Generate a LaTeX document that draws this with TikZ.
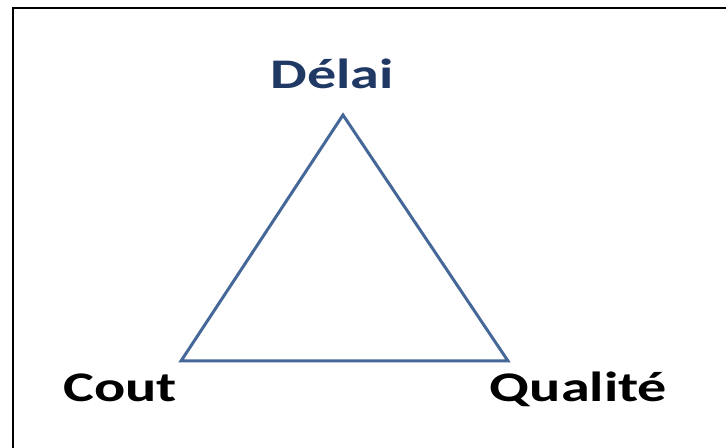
\documentclass[tikz,border=0pt]{standalone}
\usepackage{fontspec}
\setmainfont{Carlito}
\usetikzlibrary{positioning}
\definecolor{edgeblue}{RGB}{70,104,152}
\definecolor{titleblue}{RGB}{31,56,100}

\begin{document}
\begin{tikzpicture}[
  x=0.02cm, y=0.02cm,
  corner/.style={font=\bfseries\fontsize{24}{28}\selectfont, inner sep=0pt, anchor=base, xscale=1.38, transform shape},
  side/.style={draw=edgeblue, line width=0.06cm, line join=miter}
]
\clip (0,0) rectangle (726,448);
\draw[line width=0.04cm] (13,-20) rectangle (760,440);

% triangle corners
\coordinate (delai) at (343,333);
\coordinate (cout) at (181,87);
\coordinate (qualite) at (508,87);
\draw[side] (delai) -- (cout) -- (qualite) -- cycle;

\node[corner, text=titleblue] (delailbl) at (332,359) {Délai};
\node[corner] (coutlbl) at (120,46) {Cout};
\node[corner] (qualitelbl) at (578.5,46) {Qualité};
\end{tikzpicture}
\end{document}
